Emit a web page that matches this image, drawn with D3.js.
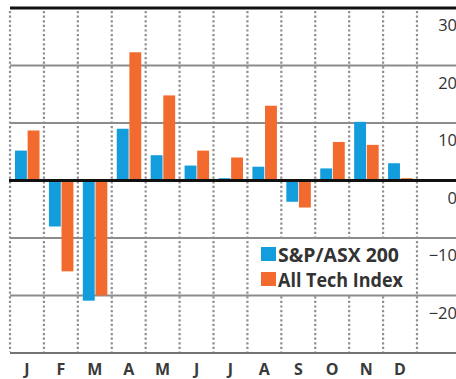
<!DOCTYPE html>
<html><head><meta charset="utf-8">
<script src="https://cdn.jsdelivr.net/npm/d3@7"></script>
<style>
html,body{margin:0;padding:0;background:#fff;}
svg{display:block;}
</style></head>
<body><svg id="c" width="456" height="379"></svg>
<script>
const months = ["J","F","M","A","M","J","J","A","S","O","N","D"];
const seriesNames = ["S&P/ASX 200","All Tech Index"];
const spValues   = [5.2, -8.0, -20.9, 9.0, 4.4, 2.6, 0.4, 2.4, -3.7, 2.1, 10.2, 3.0];
const techValues = [8.7, -15.8, -20.0, 22.3, 14.8, 5.2, 4.0, 13.0, -4.7, 6.7, 6.2, 0.4];
const yTicks = [30, 20, 10, 0, -10, -20];
const colors = ["#139ddc", "#f26a2d"];

const svg = d3.select("#c");
const W = 456;
const x0 = d3.scaleBand().domain(d3.range(months.length)).range([10, 417]).padding(0);
const x1 = d3.scaleBand().domain([0,1]).range([5, 29.5]).paddingInner(0.06);
const y = d3.scaleLinear().domain([-30, 30]).range([353, 8]);

// vertical dotted lines
const vx = d3.range(months.length + 1).map(i => i < months.length ? x0(i) : x0(months.length-1) + x0.bandwidth());
svg.append("g").selectAll("line").data(vx).join("line")
  .attr("x1", d => d).attr("x2", d => d)
  .attr("y1", y(30) + 3).attr("y2", y(-30) - 1)
  .attr("stroke", "#8e8e8e").attr("stroke-width", 2.2)
  .attr("stroke-dasharray", "2.2,2.4");

// horizontal gridlines
svg.append("g").selectAll("line").data([20, 10, -10, -20]).join("line")
  .attr("x1", 10).attr("x2", W)
  .attr("y1", d => y(d)).attr("y2", d => y(d))
  .attr("stroke", "#8c8c8c").attr("stroke-width", 2);

// bars
const data = months.map((m, i) => ({i, vals: [spValues[i], techValues[i]]}));
const g = svg.append("g");
data.forEach(d => {
  g.selectAll(null).data(d.vals).join("rect")
    .attr("x", (v, k) => x0(d.i) + x1(k))
    .attr("width", x1.bandwidth())
    .attr("y", v => y(Math.max(0, v)))
    .attr("height", v => Math.abs(y(v) - y(0)))
    .attr("fill", (v, k) => colors[k]);
});

// top, zero, bottom lines
svg.append("line").attr("x1", 10).attr("x2", W).attr("y1", y(30)).attr("y2", y(30))
  .attr("stroke", "#111").attr("stroke-width", 3);
svg.append("line").attr("x1", 9).attr("x2", W).attr("y1", y(0)).attr("y2", y(0))
  .attr("stroke", "#111").attr("stroke-width", 3);
svg.append("line").attr("x1", 10).attr("x2", W).attr("y1", y(-30)).attr("y2", y(-30))
  .attr("stroke", "#444").attr("stroke-width", 1.5);

// right axis labels
const yAxis = d3.axisRight(y).tickValues(yTicks).tickSize(0).tickFormat(d3.format("d"));
const ya = svg.append("g").attr("transform", `translate(${W + 1},0)`).call(yAxis);
ya.select(".domain").remove();
ya.selectAll("text").attr("x", 0).attr("dy", "1.38em").attr("text-anchor", "end")
  .attr("font-family", "Open Sans, sans-serif").attr("font-size", 16.5).attr("fill", "#333");

// month labels
const xAxis = d3.axisBottom(x0).tickSize(0).tickFormat(i => months[i]);
const xa = svg.append("g").attr("transform", `translate(0,${y(-30)})`).call(xAxis);
xa.select(".domain").remove();
xa.selectAll("text").attr("y", 22).attr("dy", 0)
  .attr("font-family", "Open Sans, sans-serif").attr("font-weight", 700)
  .attr("font-size", 16).attr("fill", "#3a3a3a");

// legend
const lg = svg.append("g");
lg.append("rect").attr("x", 252).attr("y", 240).attr("width", 160).attr("height", 54).attr("fill", "#fff");
const legendWidths = [121, 125];
seriesNames.forEach((s, k) => {
  lg.append("rect").attr("x", 261).attr("y", 247 + k * 25).attr("width", 15).attr("height", 14).attr("fill", colors[k]);
  lg.append("text").attr("x", 278).attr("y", 262 + k * 25).text(s)
    .attr("font-family", "Open Sans, sans-serif").attr("font-weight", 700)
    .attr("font-size", 19).attr("textLength", legendWidths[k])
    .attr("lengthAdjust", "spacingAndGlyphs").attr("fill", "#333");
});
</script></body></html>
